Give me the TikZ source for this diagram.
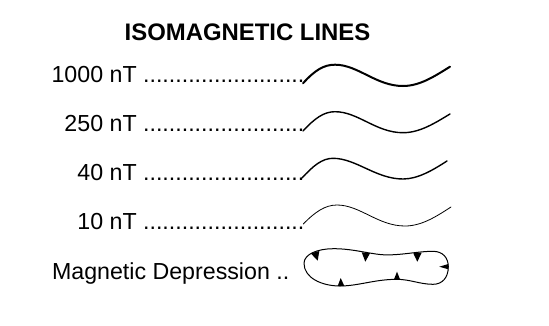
\documentclass[tikz,border=0pt]{standalone}
\usepackage{fontspec}
\setmainfont{Liberation Sans}
\tikzset{
  lbl/.style={anchor=base east,inner sep=0pt,font=\fontsize{23.2}{27}\selectfont},
  ttl/.style={anchor=base,inner sep=0pt,font=\fontsize{23.9}{28}\selectfont\bfseries},
  iso/.style={draw=black,line cap=round,line join=round},
  barb/.style={fill=black,draw=none}
}
\begin{document}
\begin{tikzpicture}[x=1pt,y=-1pt]
\useasboundingbox (0,0) rectangle (549,325);
\node[ttl] (title) at (247.5,40) {ISOMAGNETIC LINES};
\node[lbl] (a) at (304.5,82) {1000 nT .........................};
\node[lbl] (b) at (304.5,131) {250 nT .........................};
\node[lbl] (c) at (304.5,180) {40 nT .........................};
\node[lbl] (d) at (304.5,229) {10 nT .........................};
\node[lbl] (e) at (289.5,279) {Magnetic Depression ..};
\draw[iso,line width=2pt] (303,83.3) .. controls (315,70) and (324,64.7) .. (335,64.7) .. controls (358,64.7) and (376,86) .. (403,86) .. controls (420,86) and (435,76) .. (450,66.7);
\draw[iso,line width=1.4pt] (303,131) .. controls (315,118) and (324,111.7) .. (335,111.7) .. controls (358,111.7) and (376,132.7) .. (403,132.7) .. controls (420,132.7) and (435,123) .. (450,114);
\draw[iso,line width=1.4pt] (302,178) .. controls (313,166) and (322,158.3) .. (333,158.3) .. controls (356,158.3) and (376,179) .. (403,179) .. controls (418,179) and (433,170) .. (447,161);
\draw[iso,line width=0.8pt] (303.3,224) .. controls (315,212) and (325,205) .. (337,205) .. controls (360,205) and (378,226) .. (405,226) .. controls (422,226) and (437,216) .. (451,207);
\draw[iso,line width=1pt] (304,263.3) .. controls (304,254) and (318,248.7) .. (333.3,248.7) .. controls (350,248.7) and (362,252) .. (376,254) .. controls (395,257) and (415,251.3) .. (433,251.3) .. controls (443,251.3) and (448.3,258) .. (448.3,266.7) .. controls (448.3,278) and (442,284.3) .. (433,284.3) .. controls (420,284.3) and (410,279.3) .. (396.7,279.3) .. controls (375,279.3) and (358,286) .. (340,286) .. controls (322,286) and (304,278) .. (304,263.3) -- cycle;
\fill[barb] (310.7,253.3) -- (319.3,251) -- (317.7,260.7) -- cycle;
\fill[barb] (361.7,252.3) -- (370,253.3) -- (365.3,261.7) -- cycle;
\fill[barb] (413.3,253.3) -- (421.7,252.7) -- (417.3,261.7) -- cycle;
\fill[barb] (448.3,264) -- (448.3,269.3) -- (439.3,266.7) -- cycle;
\fill[barb] (337.7,286) -- (344.3,286) -- (340.7,278) -- cycle;
\fill[barb] (394,279.3) -- (400,279.3) -- (397,271.7) -- cycle;
\end{tikzpicture}
\end{document}
